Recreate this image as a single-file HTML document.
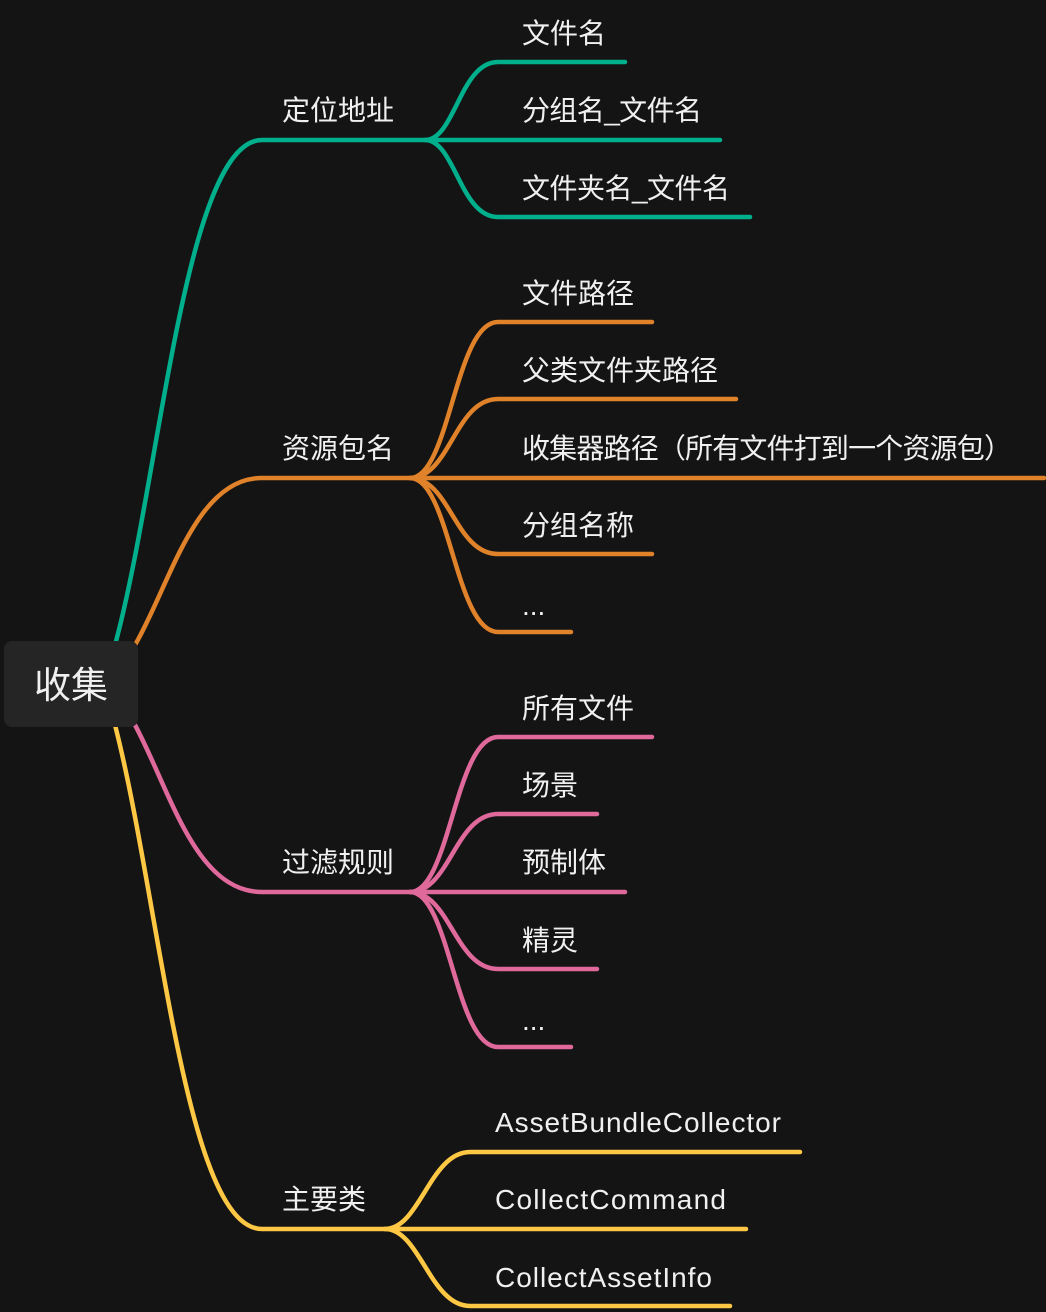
<!DOCTYPE html>
<html><head><meta charset="utf-8"><style>
html,body{margin:0;padding:0;background:#141414;}
svg{display:block}
text{font-family:"Liberation Sans","Noto Sans CJK SC",sans-serif;fill:#f0f0f0;font-size:28px}
</style></head><body>
<svg width="1046" height="1312" viewBox="0 0 1046 1312">
<rect width="1046" height="1312" fill="#141414"/>
<g fill="none" stroke-width="4.5" stroke-linecap="round">
<g stroke="#00b08c">
<path d="M115,645 C160,480 185,140 262,140 H720"/>
<path d="M425,140 C455,140 460,62 498,62 H625"/>
<path d="M425,140 C455,140 460,217 498,217 H750"/>
</g>
<g stroke="#e0822a">
<path d="M135,645 C170,585 195,478 262,478 H1044"/>
<path d="M410,478 C450,478 455,322 498,322 H652"/>
<path d="M410,478 C450,478 455,399 498,399 H736"/>
<path d="M410,478 C450,478 455,554 498,554 H652"/>
<path d="M410,478 C450,478 455,632 498,632 H571"/>
</g>
<g stroke="#e0699c">
<path d="M135,725 C170,790 195,892 262,892 H625"/>
<path d="M410,892 C450,892 455,737 498,737 H652"/>
<path d="M410,892 C450,892 455,814 498,814 H597"/>
<path d="M410,892 C450,892 455,969 498,969 H597"/>
<path d="M410,892 C450,892 455,1047 498,1047 H571"/>
</g>
<g stroke="#ffc844">
<path d="M115,725 C160,900 185,1229 262,1229 H746"/>
<path d="M385,1229 C420,1229 430,1152 470,1152 H800"/>
<path d="M385,1229 C420,1229 430,1306 470,1306 H730"/>
</g>
</g>
<rect x="4" y="641" width="134" height="86" rx="8" fill="#252525"/>
<text x="71" y="698" text-anchor="middle" style="font-size:37px">收集</text>

<text x="282" y="120" textLength="112">定位地址</text>
<text x="522" y="43" textLength="84">文件名</text>
<text x="522" y="120" textLength="180">分组名_文件名</text>
<text x="522" y="198" textLength="208">文件夹名_文件名</text>

<text x="282" y="458" textLength="112">资源包名</text>
<text x="522" y="303" textLength="112">文件路径</text>
<text x="522" y="380" textLength="196">父类文件夹路径</text>
<text x="522" y="458" textLength="490">收集器路径（所有文件打到一个资源包）</text>
<text x="522" y="535" textLength="112">分组名称</text>
<text x="522" y="615">...</text>

<text x="282" y="872" textLength="112">过滤规则</text>
<text x="522" y="718" textLength="112">所有文件</text>
<text x="522" y="795" textLength="56">场景</text>
<text x="522" y="872" textLength="84">预制体</text>
<text x="522" y="950" textLength="56">精灵</text>
<text x="522" y="1030">...</text>

<text x="282" y="1209" textLength="84">主要类</text>
<text x="495" y="1132" textLength="286">AssetBundleCollector</text>
<text x="495" y="1209" textLength="231">CollectCommand</text>
<text x="495" y="1287" textLength="217">CollectAssetInfo</text>
</svg>
</body></html>
